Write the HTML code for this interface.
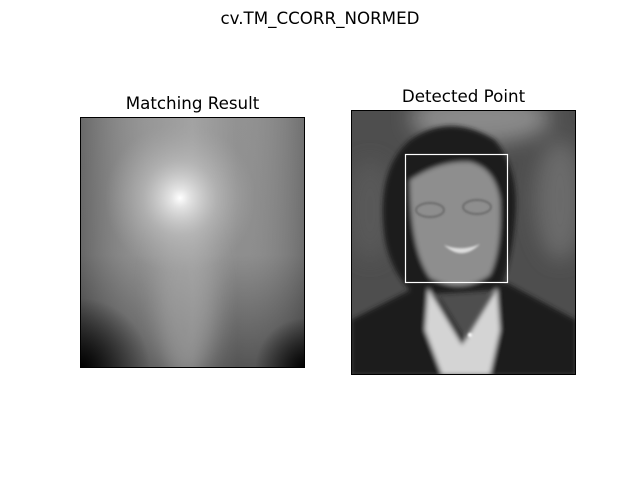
<!DOCTYPE html>
<html><head><meta charset="utf-8"><style>
body{margin:0;background:#fff;}
svg{display:block;font-family:"DejaVu Sans","Liberation Sans",sans-serif;}
</style></head><body>
<svg width="640" height="480" viewBox="0 0 640 480">
<defs>
<filter id="b8" x="-50%" y="-50%" width="200%" height="200%"><feGaussianBlur stdDeviation="10"/></filter>
<filter id="b3" x="-50%" y="-50%" width="200%" height="200%"><feGaussianBlur stdDeviation="2.5"/></filter>
<filter id="b1"><feGaussianBlur stdDeviation="1"/></filter>
<radialGradient id="spot" cx="180" cy="198" r="75" gradientUnits="userSpaceOnUse">
<stop offset="0" stop-color="#fff"/><stop offset="0.12" stop-color="#e4e4e4"/><stop offset="0.5" stop-color="#c0c0c0" stop-opacity="0.6"/><stop offset="1" stop-color="#aaa" stop-opacity="0"/></radialGradient>
<linearGradient id="lv" x1="0" y1="117" x2="0" y2="368" gradientUnits="userSpaceOnUse">
<stop offset="0" stop-color="#8c8c8c"/><stop offset="0.55" stop-color="#888"/><stop offset="1" stop-color="#4a4a4a"/></linearGradient>
<linearGradient id="lh" x1="80" y1="0" x2="305" y2="0" gradientUnits="userSpaceOnUse">
<stop offset="0" stop-color="#000" stop-opacity="0.25"/><stop offset="0.35" stop-color="#fff" stop-opacity="0.12"/><stop offset="0.5" stop-color="#fff" stop-opacity="0.2"/><stop offset="0.7" stop-color="#fff" stop-opacity="0.05"/><stop offset="1" stop-color="#000" stop-opacity="0.2"/></linearGradient>
<radialGradient id="cbl" cx="80" cy="368" r="70" gradientUnits="userSpaceOnUse"><stop offset="0" stop-color="#000"/><stop offset="1" stop-color="#000" stop-opacity="0"/></radialGradient>
<radialGradient id="cbr" cx="305" cy="368" r="50" gradientUnits="userSpaceOnUse"><stop offset="0" stop-color="#000"/><stop offset="1" stop-color="#000" stop-opacity="0"/></radialGradient>
<clipPath id="cl"><rect x="80" y="117" width="225" height="251"/></clipPath>
<clipPath id="cr"><rect x="351" y="110" width="225" height="265"/></clipPath>
</defs>
<text x="320" y="24" text-anchor="middle" font-size="16.7">cv.TM_CCORR_NORMED</text>

<g>
<text x="192.5" y="109" text-anchor="middle" font-size="16.7">Matching Result</text>
<g clip-path="url(#cl)">
<rect x="80" y="117" width="225" height="251" fill="url(#lv)"/>
<rect x="80" y="117" width="225" height="251" fill="url(#lh)"/>
<rect x="80" y="117" width="225" height="251" fill="url(#cbl)"/>
<rect x="80" y="117" width="225" height="251" fill="url(#cbr)"/>
<ellipse cx="185" cy="300" rx="30" ry="80" fill="#aaa" opacity="0.5" filter="url(#b8)"/>
<rect x="80" y="117" width="225" height="251" fill="url(#spot)"/>
</g>
<rect x="80.5" y="117.5" width="224" height="250" fill="none" stroke="#000" stroke-width="1"/>
</g>

<g>
<text x="463.5" y="102" text-anchor="middle" font-size="16.7">Detected Point</text>
<g clip-path="url(#cr)">
<rect x="351" y="110" width="225" height="265" fill="#4e4e4e"/>
<g filter="url(#b8)">
<ellipse cx="480" cy="118" rx="70" ry="25" fill="#8a8a8a"/>
<ellipse cx="560" cy="200" rx="25" ry="60" fill="#6a6a6a"/>
<ellipse cx="370" cy="210" rx="25" ry="50" fill="#585858"/>
</g>
<g filter="url(#b3)">
<path d="M385 240 Q375 170 410 140 Q450 112 495 140 Q520 170 515 220 Q512 260 500 290 L415 295 Q392 275 385 240Z" fill="#1c1c1c"/>
<path d="M410 180 Q440 160 470 162 Q495 168 500 200 Q502 250 490 275 Q462 295 430 278 Q410 250 410 180Z" fill="#8e8e8e"/>
<path d="M351 320 L420 285 L440 300 L465 340 L490 300 L505 282 L576 320 L576 375 L351 375Z" fill="#1e1e1e"/>
<path d="M428 288 L462 345 L497 288 L500 330 L490 375 L442 375 L425 330Z" fill="#d4d4d4"/>
</g>
<g filter="url(#b1)">
<ellipse cx="430" cy="210" rx="14" ry="7" fill="none" stroke="#555" stroke-width="1.2"/>
<ellipse cx="477" cy="207" rx="14" ry="7" fill="none" stroke="#555" stroke-width="1.2"/>
<path d="M444 245 Q462 252 480 244 Q462 262 444 245Z" fill="#ddd"/>
<circle cx="470" cy="335" r="2" fill="#fff"/>
</g>
</g>
<rect id="matchbox" fill="none" stroke="#ffffff" stroke-width="1.2"/>
<rect x="351.5" y="110.5" width="224" height="264" fill="none" stroke="#000" stroke-width="1"/>
</g>
</svg>
<script>
const matchTopLeft = [54, 44];
const templateSize = [102, 128];
const imgOrigin = [351, 110];
const r = document.getElementById('matchbox');
r.setAttribute('x', imgOrigin[0] + matchTopLeft[0] + 0.5);
r.setAttribute('y', imgOrigin[1] + matchTopLeft[1] + 0.5);
r.setAttribute('width', templateSize[0]);
r.setAttribute('height', templateSize[1]);
</script>
</body></html>
